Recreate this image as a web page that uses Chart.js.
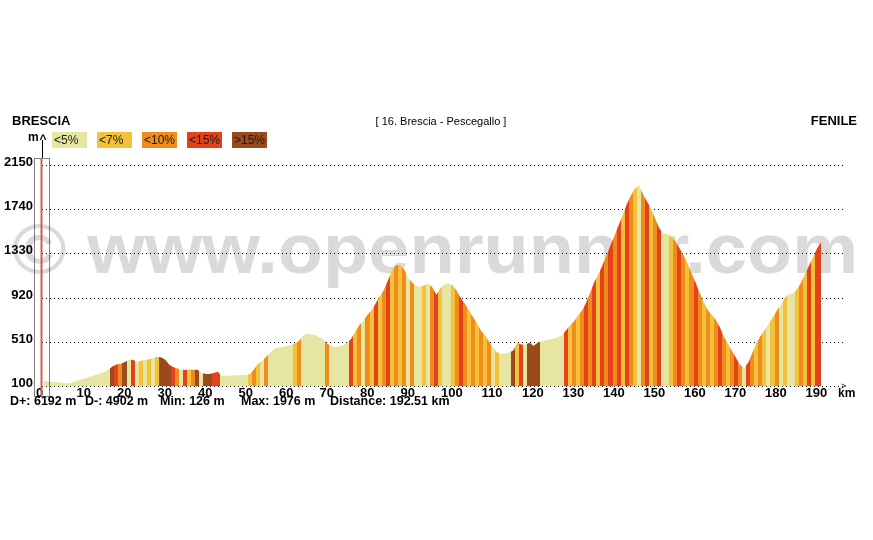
<!DOCTYPE html>
<html>
<head>
<meta charset="utf-8">
<title>Brescia - Pescegallo</title>
<script src="https://cdn.jsdelivr.net/npm/chart.js@4.4.1/dist/chart.umd.min.js"></script>
<style>
  html, body { margin: 0; padding: 0; background: #fff; }
  #wrap { position: relative; width: 873px; height: 540px; }
</style>
</head>
<body>
<div id="wrap"><canvas id="profil" width="873" height="540"></canvas></div>
<script>
const altitudes = [
    150, 148, 145, 140, 136, 130, 127, 135, 150, 162,
    172, 185, 197, 210, 222, 233, 255, 285, 303, 312,
    325, 345, 348, 332, 340, 345, 352, 362, 375, 372,
    350, 305, 280, 268, 258, 253, 258, 255, 255, 230,
    215, 215, 225, 237, 200, 200, 200, 203, 205, 206,
    206, 215, 260, 310, 340, 375, 415, 450, 460, 466,
    475, 485, 498, 520, 570, 590, 588, 575, 560, 540,
    500, 478, 465, 470, 482, 505, 546, 610, 670, 712,
    765, 810, 870, 935, 993, 1080, 1170, 1225, 1230, 1190,
    1110, 1065, 1035, 1024, 1040, 1055, 1020, 950, 1010, 1048,
    1055, 1040, 990, 920, 870, 810, 746, 690, 620, 575,
    515, 465, 415, 402, 405, 415, 435, 505, 490, 490,
    505, 478, 505, 520, 530, 538, 545, 558, 578, 620,
    668, 705, 760, 808, 880, 975, 1070, 1140, 1225, 1315,
    1410, 1500, 1595, 1690, 1790, 1870, 1935, 1970, 1885, 1815,
    1750, 1660, 1570, 1518, 1518, 1490, 1450, 1385, 1320, 1245,
    1150, 1065, 970, 885, 808, 765, 720, 650, 560, 500,
    430, 365, 300, 275, 320, 410, 500, 565, 620, 680,
    735, 800, 855, 920, 955, 962, 1000, 1060, 1140, 1220,
    1300, 1380, 1440
];

// classe de pente par km : 0 <5%, 1 <7%, 2 <10%, 3 <15%, 4 >15%
const pentes = [
    0, 0, 0, 0, 0, 0, 0, 0, 0, 0,
    0, 0, 0, 0, 0, 0, 0, 4, 3, 2,
    4, 0, 3, 0, 1, 0, 1, 0, 1, 4,
    4, 4, 3, 2, 0, 3, 1, 2, 4, 0,
    4, 4, 3, 3, 0, 0, 0, 0, 0, 0,
    0, 1, 2, 1, 0, 2, 0, 0, 0, 0,
    0, 0, 1, 2, 0, 0, 0, 0, 0, 0,
    2, 0, 0, 0, 0, 0, 3, 1, 2, 0,
    2, 1, 3, 1, 2, 3, 1, 2, 1, 2,
    0, 2, 0, 0, 1, 0, 2, 3, 1, 0,
    0, 1, 2, 3, 2, 1, 2, 1, 2, 1,
    2, 0, 1, 0, 0, 0, 4, 1, 3, 0,
    4, 4, 4, 0, 0, 0, 0, 0, 0, 3,
    1, 2, 1, 2, 3, 2, 3, 1, 3, 2,
    3, 2, 3, 1, 3, 2, 1, 0, 2, 3,
    1, 2, 3, 0, 0, 1, 2, 3, 2, 1,
    2, 3, 2, 1, 2, 1, 2, 3, 2, 1,
    2, 3, 2, 0, 3, 2, 1, 2, 1, 0,
    1, 2, 0, 1, 0, 0, 1, 2, 1, 3,
    1, 3, 3
];

const classesPente = ['<5%', '<7%', '<10%', '<15%', '>15%'];
const couleursPente = ['#e6e6a2', '#f3c13a', '#ef8c1c', '#e3421a', '#9c4a1c'];
const ticksAltitude = [100, 510, 920, 1330, 1740, 2150];
const ticksKm = [0, 10, 20, 30, 40, 50, 60, 70, 80, 90, 100, 110, 120, 130, 140, 150, 160, 170, 180, 190];
const stats = ['D+: 6192 m', 'D-: 4902 m', 'Min: 126 m', 'Max: 1976 m', 'Distance: 192.51 km'];

const police = '"Liberation Sans", Arial, sans-serif';

// remplissage rayé : une bande de couleur par km selon la pente
function rayures(context) {
    const chart = context.chart;
    const x = chart.scales.x;
    if (!chart.chartArea || !x) return couleursPente[0];
    const x0 = x.getPixelForValue(0);
    const x1 = x.getPixelForValue(altitudes.length);
    const grad = chart.ctx.createLinearGradient(x0, 0, x1, 0);
    const n = altitudes.length;
    pentes.forEach((p, i) => {
        const c = couleursPente[p];
        grad.addColorStop(i / n, c);
        grad.addColorStop((i + 1) / n, c);
    });
    return grad;
}

// décor : filigrane, titres, légende, curseur
const decor = {
    id: 'decor',
    beforeDraw(chart) {
        const ctx = chart.ctx;
        ctx.save();
        ctx.fillStyle = '#fff';
        ctx.fillRect(0, 0, chart.width, chart.height);
        // filigrane
        ctx.font = 'bold 71px ' + police;
        ctx.fillStyle = '#dadada';
        const txt = '\u00a9 www.openrunner.com';
        const w = ctx.measureText(txt).width;
        ctx.translate(12, 273);
        ctx.scale(846 / w, 1);
        ctx.textBaseline = 'alphabetic';
        ctx.fillText(txt, 0, 0);
        ctx.restore();
    },
    afterDraw(chart) {
        const ctx = chart.ctx;
        ctx.save();
        ctx.fillStyle = '#000';
        ctx.textBaseline = 'alphabetic';

        // en-tête
        ctx.font = 'bold 13px ' + police;
        ctx.textAlign = 'left';
        ctx.fillText('BRESCIA', 12, 125);
        ctx.textAlign = 'right';
        ctx.fillText('FENILE', 857, 125);
        ctx.font = '11px ' + police;
        ctx.textAlign = 'center';
        ctx.fillText('[ 16. Brescia - Pescegallo ]', 441, 125);

        // légende des pentes
        ctx.textAlign = 'left';
        ctx.textBaseline = 'middle';
        ctx.font = '12px ' + police;
        classesPente.forEach((lbl, i) => {
            const x = 52 + i * 45;
            ctx.fillStyle = couleursPente[i];
            ctx.fillRect(x, 132, 35, 16);
            ctx.fillStyle = '#1a1a1a';
            ctx.fillText(lbl, x + 2, 140.5);
        });

        // axe vertical "m ^"
        ctx.fillStyle = '#000';
        ctx.textBaseline = 'alphabetic';
        ctx.font = 'bold 12px ' + police;
        ctx.fillText('m', 28, 141);
        ctx.fillText('^', 39.5, 143);
        ctx.strokeStyle = '#000';
        ctx.lineWidth = 1;
        ctx.beginPath();
        ctx.moveTo(42.5, 140);
        ctx.lineTo(42.5, 158);
        ctx.stroke();

        // cadre pointillé + curseur rouge
        ctx.setLineDash([1, 1]);
        ctx.strokeRect(34.5, 158.5, 15, 238);
        ctx.setLineDash([]);
        ctx.strokeStyle = '#cf5f4c';
        ctx.lineWidth = 2;
        ctx.beginPath();
        ctx.moveTo(41.5, 159);
        ctx.lineTo(41.5, 396);
        ctx.stroke();

        // flèche et unité de l'axe des distances
        ctx.fillStyle = '#000';
        ctx.font = '9px ' + police;
        ctx.fillText('>', 841, 389);
        ctx.font = 'bold 12px ' + police;
        ctx.fillText('km', 838, 397);

        // statistiques
        ctx.font = 'bold 12.5px ' + police;
        const xs = [10, 85, 160, 241, 330];
        stats.forEach((s, i) => ctx.fillText(s, xs[i], 405));
        ctx.restore();
    }
};

const ctx = document.getElementById('profil').getContext('2d');
new Chart(ctx, {
    type: 'line',
    data: {
        datasets: [{
            data: altitudes.map((a, i) => ({ x: i + 0.5, y: a })),
            backgroundColor: rayures,
            borderColor: 'rgba(0,0,0,0)',
            borderWidth: 0,
            pointRadius: 0,
            tension: 0,
            fill: 'start'
        }]
    },
    options: {
        responsive: false,
        animation: false,
        devicePixelRatio: 1,
        layout: { padding: { top: 165.5, right: 28, bottom: 0, left: 0 } },
        plugins: {
            legend: { display: false },
            tooltip: { enabled: false }
        },
        scales: {
            x: {
                type: 'linear',
                offset: false,
                min: 0,
                max: 198.4,
                afterFit: s => { s.height = 153.5; },
                afterBuildTicks: s => { s.ticks = ticksKm.map(v => ({ value: v })); },
                grid: { display: false, drawTicks: false, offset: false },
                border: { display: false },
                ticks: {
                    align: 'start',
                    labelOffset: -5.5,
                    padding: -1,
                    maxRotation: 0,
                    autoSkip: false,
                    color: '#000',
                    font: { family: police, size: 13, weight: 'bold' },
                    callback: v => String(v)
                }
            },
            y: {
                min: 100,
                max: 2150,
                afterFit: s => { s.width = 41.5; },
                afterBuildTicks: s => { s.ticks = ticksAltitude.map(v => ({ value: v })); },
                grid: { color: '#000', lineWidth: 1, drawTicks: false },
                border: { display: false, dash: [1, 3] },
                ticks: {
                    padding: 8.5,
                    labelOffset: -3,
                    color: '#000',
                    font: { family: police, size: 13, weight: 'bold' },
                    callback: v => String(v)
                }
            }
        }
    },
    plugins: [decor]
});
</script>
</body>
</html>
